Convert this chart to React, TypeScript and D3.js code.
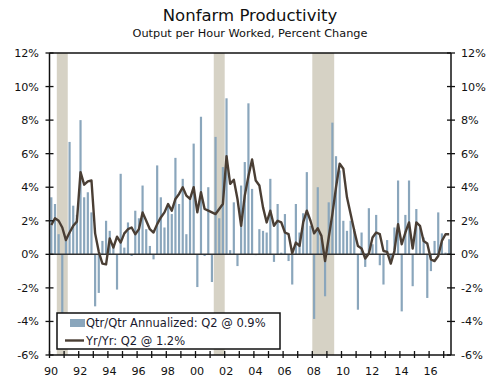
import React from "react";
import * as d3 from "d3";

const startYear = 1990;
const qoq = [
  3.4, 3.0, 1.2, -3.8, 1.0, 6.7, 2.9, 2.35, 8.0, 3.4,
  3.7, 2.5, -3.1, -2.3, 0.8, 2.0, 1.4, 0.6, -2.1, 4.8,
  0.4, 1.9, -0.1, 2.6, 2.15, 4.1, 1.5, 0.5, -0.3, 5.3,
  3.4, 1.6, 2.85, 2.4, 5.75, 3.0, 4.5, 1.2, 3.3, 6.6,
  -1.95, 8.2, -0.1, 4.0, -1.65, 7.0, 2.15, 5.2, 9.3, 0.25,
  3.1, -0.7, 4.1, 5.5, 9.0, 3.9, -0.05, 1.5, 1.4, 1.3,
  4.5, -0.45, 3.0, 0.1, 2.4, -0.4, -1.8, 3.0, 1.3, 2.45,
  4.9, 1.7, -3.85, 4.0, 1.0, -2.5, 3.1, 7.85, 5.85, 5.0,
  2.0, 1.4, 2.0, 1.5, -3.3, 1.3, -0.75, 2.75, 0.6, 2.35,
  -0.65, -1.8, 0.85, -0.3, 1.6, 4.4, -3.4, 2.35, 4.4, -1.9,
  2.7, 1.6, 1.0, -2.6, -1.0, 0.8, 2.5, 1.25, 0.1, 0.9,
];
const yoy = [
  1.75, 2.15, 2.0, 1.6, 0.85, 1.3, 1.7, 1.95, 4.9, 4.15,
  4.35, 4.4, 1.25, 0.15, -0.55, -0.6, 0.95, 0.4, 1.05, 0.7,
  1.25, 1.5, 1.6, 1.2, 1.5, 2.5, 2.0, 1.5, 1.3, 1.8,
  2.2, 2.5, 3.0, 2.6, 3.3, 3.6, 4.0, 3.5, 3.3, 4.0,
  2.5, 3.7, 2.7, 2.6, 2.5, 2.4, 2.7, 3.0, 5.85, 4.2,
  4.45, 3.3, 1.7, 3.5, 4.65, 5.65, 4.4, 4.1, 2.8, 1.9,
  2.6, 1.7, 2.0, 1.9, 1.3, 1.2, 0.05, 0.7, 0.5, 1.9,
  2.6, 2.0, 1.25, 1.55, 1.1, -0.4, 1.0, 2.4, 4.0, 5.4,
  5.1, 3.4, 2.4, 1.4, 0.5, 0.35, -0.25, 0.05, 1.0, 1.3,
  1.2, 0.2, 0.15, -0.55, 0.2, 1.8, 0.6, 1.3, 1.9, 0.35,
  1.9, 1.7, 0.8, 0.65, -0.3, -0.4, -0.1, 0.8, 1.2, 1.2,
];
// recession periods, in fractional years [start, end)
const recessions: [number, number][] = [
  [1990.5, 1991.25],
  [2001.25, 2002.0],
  [2008.0, 2009.5],
];
const yTicks = [-6, -4, -2, 0, 2, 4, 6, 8, 10, 12];
const yearTicks = d3.range(1990, 2018);
const yearLabels = ["90", "92", "94", "96", "98", "00", "02", "04", "06", "08", "10", "12", "14", "16"];
const title = "Nonfarm Productivity";
const subtitle = "Output per Hour Worked, Percent Change";
const legendBar = "Qtr/Qtr Annualized: Q2 @ 0.9%";
const legendLine = "Yr/Yr: Q2 @ 1.2%";

const FONT = "'DejaVu Sans', Verdana, sans-serif";

export default function App() {
  const W = 500, H = 384;
  const left = 49.5, right = 451, top = 53, bottom = 355;
  const n = qoq.length;
  const idx = d3.range(n);
  const xb = d3.scaleBand<number>().domain(idx).range([left, right]).paddingInner(0.4).paddingOuter(0.2);
  const xq = d3.scaleLinear().domain([0, n]).range([left, right]);
  const xYear = (yr: number) => xq((yr - startYear) * 4);
  const y = d3.scaleLinear().domain([-6, 12]).range([bottom, top]);
  const cx = (i: number) => (xb(i) as number) + xb.bandwidth() / 2;
  const line = d3.line<number>().x((_, i) => cx(i)).y((d) => y(d));

  const barColor = "#8aa6bc";
  const lineColor = "#4a3e34";
  const shadeColor = "#d6d2c5";
  const axisColor = "#111";

  return (
    <svg width={W} height={H} style={{ position: "absolute", left: 0, top: 0, background: "#fff" }} fontFamily={FONT}>
      <text x={250} y={21} textAnchor="middle" fontSize={16.5} fill="#111">{title}</text>
      <text x={250} y={36.5} textAnchor="middle" fontSize={11.3} fill="#111">{subtitle}</text>

      {recessions.map(([a, b], k) => (
        <rect key={k} x={xYear(a)} y={top} width={xYear(b) - xYear(a)} height={bottom - top} fill={shadeColor} />
      ))}

      {qoq.map((v, i) => (
        <rect key={i} x={xb(i)} y={Math.min(y(v), y(0))} width={xb.bandwidth()} height={Math.abs(y(v) - y(0))} fill={barColor} />
      ))}

      <line x1={left} x2={right} y1={y(0)} y2={y(0)} stroke="#333" strokeWidth={1.5} />

      <path d={line(yoy) || ""} fill="none" stroke={lineColor} strokeWidth={2.4} strokeLinejoin="round" />

      {/* frame */}
      <line x1={left} x2={right} y1={top} y2={top} stroke={axisColor} strokeWidth={1.5} />
      <line x1={left} x2={right} y1={bottom} y2={bottom} stroke={axisColor} strokeWidth={1.5} />
      <line x1={left} x2={left} y1={top} y2={bottom} stroke={axisColor} strokeWidth={1.5} />
      <line x1={right} x2={right} y1={top} y2={bottom} stroke={axisColor} strokeWidth={1.5} />

      {yTicks.map((t) => (
        <g key={t}>
          <line x1={left - 4} x2={left + 4} y1={y(t)} y2={y(t)} stroke={axisColor} strokeWidth={1.3} />
          <line x1={right - 4} x2={right + 4} y1={y(t)} y2={y(t)} stroke={axisColor} strokeWidth={1.3} />
          <text x={39} y={y(t) + 4} textAnchor="end" fontSize={11.2} fill="#111">{`${t}%`}</text>
          <text x={461} y={y(t) + 4} textAnchor="start" fontSize={11.2} fill="#111">{`${t}%`}</text>
        </g>
      ))}

      {yearTicks.map((yr) => (
        <line key={yr} x1={xYear(yr)} x2={xYear(yr)} y1={bottom - 4} y2={bottom + 3} stroke={axisColor} strokeWidth={1.3} />
      ))}
      {yearLabels.map((lab, k) => (
        <text key={lab} x={xYear(1990 + 2 * k) + 1.5} y={375} textAnchor="middle" fontSize={11.2} fill="#111">{lab}</text>
      ))}

      {/* legend */}
      <rect x={57} y={313} width={223} height={36} fill="#fff" stroke="#111" strokeWidth={1.5} />
      <rect x={70} y={319} width={15} height={8} fill={barColor} />
      <text x={86} y={327} fontSize={11.5} fill="#1a1a2e">{legendBar}</text>
      <line x1={65} x2={84} y1={340.5} y2={340.5} stroke={lineColor} strokeWidth={2.4} />
      <text x={86} y={344.5} fontSize={11.5} fill="#1a1a2e">{legendLine}</text>
    </svg>
  );
}
